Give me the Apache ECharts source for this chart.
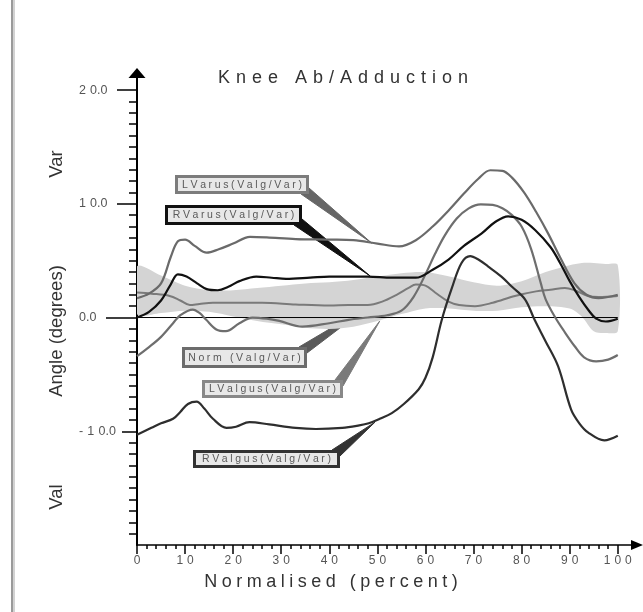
<!DOCTYPE html>
<html>
<head>
<meta charset="utf-8">
<script src="https://cdn.jsdelivr.net/npm/echarts@6/dist/echarts.min.js"></script>
<style>
  html, body { margin: 0; padding: 0; background: #fff; }
  #chart { width: 643px; height: 612px; }
</style>
</head>
<body>
<div id="chart"></div>
<script>
// ---- text ----
const TITLE = 'Knee Ab/Adduction';
const X_NAME = 'Normalised (percent)';
const Y_NAME = 'Angle (degrees)';
const Y_UPPER_NOTE = 'Var';
const Y_LOWER_NOTE = 'Val';

// ---- tick labels ----
const xTickLabels = [0, 10, 20, 30, 40, 50, 60, 70, 80, 90, 100];
const yTickLabels = [-10, 0, 10, 20];

// ---- normative band (percent of cycle, upper / lower bound in degrees) ----
const normPct   = [0, 5, 10, 15, 20, 25, 30, 35, 40, 45, 50, 55, 60, 65, 70, 75, 80, 85, 90, 92.5, 95, 97.5, 100];
const normUpper = [4.5, 3.7, 2.8, 2.4, 2.4, 2.6, 2.8, 3.0, 3.1, 3.3, 3.6, 3.9, 4.0, 3.6, 3.1, 2.8, 3.2, 4.0, 4.6, 4.8, 4.8, 4.7, 4.6];
const normLower = [0.3, 0.4, 0.6, 0.5, 0.1, -0.3, -0.6, -0.9, -1.0, -0.8, -0.3, 0.3, 0.8, 0.8, 0.6, 0.6, 0.9, 1.0, 0.8, 0.1, -1.2, -1.35, -1.2];

// ---- curves ----
const lVarusPct = [0, 2.5, 5, 7, 8.5, 10, 12, 14.5, 17, 20, 23.5, 27, 33, 40, 45, 50, 54.5, 58, 61.5, 65, 68, 71, 73.5, 76, 78, 80.5, 83, 85.5, 88, 91, 93.5, 96, 100];
const lVarusVal = [1.7, 2.1, 3.0, 5.3, 6.7, 6.85, 6.3, 5.7, 6.0, 6.5, 7.1, 7.05, 6.9, 6.85, 6.8, 6.5, 6.25, 6.8, 8.0, 9.5, 10.9, 12.2, 12.95, 12.9, 12.3, 11.0, 9.3, 7.4, 5.3, 3.0, 2.0, 1.7, 2.0];

const rVarusPct = [0, 2.5, 5, 7, 8.5, 10.3, 12.5, 14.5, 16.8, 19, 21.3, 24.8, 28, 31, 36, 40, 44, 48, 53, 58, 61.5, 64.8, 68, 71.7, 74.5, 77.2, 80, 82.8, 86, 88, 90, 92, 94, 95.5, 97.5, 100];
const rVarusVal = [0, 0.5, 1.5, 2.9, 3.8, 3.6, 3.0, 2.5, 2.4, 2.7, 3.2, 3.6, 3.5, 3.4, 3.5, 3.6, 3.6, 3.6, 3.5, 3.5, 4.2, 5.1, 6.3, 7.4, 8.4, 8.9, 8.6, 7.7, 6.2, 4.8, 3.2, 1.8, 0.6, -0.1, -0.35, -0.1];

const normCurvePct = [0, 3, 6.8, 9, 11, 13, 15.8, 20, 26, 33, 40, 44, 48, 51, 54, 56.5, 58, 60, 62, 64.8, 67, 70.3, 74, 78.6, 83, 86, 89, 91, 93.8, 96, 100];
const normCurveVal = [2.2, 2.1, 1.9, 1.5, 1.1, 1.2, 1.3, 1.3, 1.3, 1.15, 1.05, 1.1, 1.1, 1.4, 2.0, 2.6, 2.9, 2.8, 2.2, 1.4, 1.1, 1.0, 1.3, 1.9, 2.3, 2.45, 2.6, 2.4, 1.9, 1.8, 1.9];

const lValgusPct = [0, 2.5, 5, 7.5, 9, 11.6, 13, 14.4, 16.5, 18.5, 21.3, 24, 27, 29.6, 34.4, 40, 44, 48, 52, 55, 57.5, 60, 62, 64, 66.5, 69, 71.5, 74, 76, 78, 80, 82, 84, 85, 87, 89, 91, 93, 95.5, 98, 100];
const lValgusVal = [-3.4, -2.6, -1.7, -0.5, 0.2, 0.7, 0.4, -0.2, -1.05, -1.2, -0.5, 0.0, -0.1, -0.3, -0.8, -0.5, -0.2, 0.0, 0.2, 0.6, 1.8, 3.8, 5.6, 7.2, 8.7, 9.6, 9.95, 9.9, 9.6, 9.0, 8.0, 6.0, 3.0, 1.6, 0.0, -1.3, -2.5, -3.5, -3.85, -3.7, -3.3];

const rValgusPct = [0, 3, 5, 7.5, 9, 10.6, 12.4, 14, 15.8, 18.6, 20.6, 23.4, 27.5, 33, 37.2, 42.7, 46, 48.2, 50.5, 53, 55.5, 58.6, 60, 61.5, 63.4, 65.5, 67.5, 69.3, 71, 73, 75.8, 78, 80.7, 82.7, 85, 87.6, 90.3, 92, 93.8, 97.2, 100];
const rValgusVal = [-10.3, -9.7, -9.3, -8.9, -8.3, -7.6, -7.4, -8.0, -8.9, -9.7, -9.6, -9.2, -9.4, -9.7, -9.8, -9.7, -9.5, -9.3, -8.9, -8.4, -7.6, -6.3, -5.3, -3.5, -0.2, 2.6, 4.8, 5.4, 5.1, 4.5, 3.6, 2.7, 1.6, -0.2, -2.1, -4.3, -8.1, -9.3, -10.1, -10.8, -10.4];

// ---- callout labels and the curve point each one points at ----
const calloutText   = ['LVarus(Valg/Var)', 'RVarus(Valg/Var)', 'Norm (Valg/Var)', 'LValgus(Valg/Var)', 'RValgus(Valg/Var)'];
const calloutTarget = [[48.8, 6.55], [48.5, 3.65], [48.5, 1.1], [50.5, -0.3], [49.5, -9.2]];

// ---- layout / style ----
const FONT = '"Liberation Sans", Arial, Helvetica, sans-serif';
const calloutLayout = [
  { box: [175, 175, 134, 19], edge: 'bottom', stroke: '#7c7c7c', wedge: '#666666' },
  { box: [165, 205, 137, 20], edge: 'bottom', stroke: '#111111', wedge: '#111111' },
  { box: [182, 347, 125, 21], edge: 'top',    stroke: '#6c6c6c', wedge: '#5a5a5a' },
  { box: [202, 380, 141, 18], edge: 'top',    stroke: '#888888', wedge: '#7a7a7a' },
  { box: [193, 450, 147, 18], edge: 'top',    stroke: '#333333', wedge: '#333333' }
];

const spaced = (s, sep) => Array.from(s).join(sep);
function numLabel(s) {
  const ch = Array.from(s);
  let out = '';
  for (let i = 0; i < ch.length; i++) {
    out += ch[i];
    if (i < ch.length - 1 && ch[i] !== '.' && ch[i + 1] !== '.') out += '\u2004';
  }
  return out;
}
const zip = (a, b) => a.map((x, i) => [x, b[i]]);

const xMinor = [];
for (let v = 2; v < 100; v += 2) if (v % 10 !== 0) xMinor.push(v);
const yMinor = [];
for (let v = -19; v < 20; v++) if (v % 10 !== 0) yMinor.push(v);

function yTickAxis(values, length) {
  return {
    type: 'value', min: -20, max: 21.5, position: 'left', offset: 0,
    axisLine: { show: false, onZero: false },
    axisTick: { show: true, customValues: values, length: length, lineStyle: { color: '#000', width: 1.5 } },
    axisLabel: { show: false },
    splitLine: { show: false }
  };
}

function curve(name, pct, val, color, width) {
  return {
    name: name, type: 'line', data: zip(pct, val), smooth: 0.35,
    showSymbol: false, symbol: 'none', silent: true,
    lineStyle: { color: color, width: width }
  };
}

// band polygon: upper edge left-to-right, lower edge right-to-left
function renderBand(params, api) {
  if (params.dataIndex !== 0) return null;
  const upper = normPct.map((p, i) => api.coord([p, normUpper[i]]));
  const lower = normPct.map((p, i) => api.coord([p, normLower[i]])).reverse();
  return {
    type: 'polygon',
    shape: { points: upper.concat(lower), smooth: 0.3 },
    style: { fill: '#d4d4d4', stroke: null },
    silent: true
  };
}

const option = {
  backgroundColor: '#ffffff',
  animation: false,
  grid: { left: 137, right: 6, top: 73, bottom: 67, containLabel: false, outerBoundsMode: 'none' },
  xAxis: [
    {
      type: 'value', min: 0, max: 104, position: 'bottom',
      axisLine: { show: true, onZero: false, lineStyle: { color: '#000', width: 1.5 }, symbol: ['none', 'triangle'], symbolSize: [10, 12] },
      axisTick: { show: true, customValues: xTickLabels, length: 9, lineStyle: { color: '#000', width: 1.5 } },
      axisLabel: { show: true, customValues: xTickLabels, margin: 10, color: '#555', fontSize: 12, fontFamily: FONT,
                   formatter: v => numLabel(String(v)) },
      splitLine: { show: false }
    },
    {
      type: 'value', min: 0, max: 104, position: 'bottom', offset: 0,
      axisLine: { show: false, onZero: false },
      axisTick: { show: true, customValues: xMinor, length: 4, lineStyle: { color: '#000', width: 1.5 } },
      axisLabel: { show: false },
      splitLine: { show: false }
    }
  ],
  yAxis: [
    {
      type: 'value', min: -20, max: 21.5, position: 'left', offset: 0,
      axisLine: { show: true, onZero: false, lineStyle: { color: '#000', width: 2 }, symbol: ['none', 'triangle'], symbolSize: [17, 10] },
      axisTick: { show: true, customValues: [10, 20], length: 20, lineStyle: { color: '#000', width: 1.5 } },
      axisLabel: { show: true, customValues: yTickLabels, align: 'left', margin: 58, color: '#555', fontSize: 12.5, fontFamily: FONT,
                   formatter: v => numLabel(v.toFixed(1)) },
      splitLine: { show: false }
    },
    yTickAxis([-10], 15),
    yTickAxis([0], 31),
    yTickAxis(yMinor, 8)
  ],
  series: [
    {
      name: 'normBand', type: 'custom', renderItem: renderBand,
      data: zip(normPct, normUpper), silent: true, clip: true, z: 1
    },
    {
      name: 'zero', type: 'line', data: [[0, 0], [100, 0]], showSymbol: false, symbol: 'none', silent: true,
      lineStyle: { color: '#000', width: 1 }
    },
    curve('Norm', normCurvePct, normCurveVal, '#7a7a7a', 2),
    curve('LValgus', lValgusPct, lValgusVal, '#6e6e6e', 2.2),
    curve('LVarus', lVarusPct, lVarusVal, '#6a6a6a', 2.2),
    curve('RValgus', rValgusPct, rValgusVal, '#2e2e2e', 2.2),
    curve('RVarus', rVarusPct, rVarusVal, '#111111', 2.2)
  ]
};

const chart = echarts.init(document.getElementById('chart'), null, { renderer: 'canvas' });
chart.setOption(option);

// ---- titles, axis names, border and callouts ----
function txt(str, x, y, size, color, rotation, align) {
  return {
    type: 'text', x: x, y: y, rotation: rotation || 0, silent: true,
    style: {
      text: str, x: 0, y: 0, font: size + 'px ' + FONT, fill: color,
      align: align || 'center', textAlign: align || 'center',
      verticalAlign: 'middle', textVerticalAlign: 'middle'
    }
  };
}

const graphics = [
  { type: 'rect', shape: { x: 11, y: 0, width: 2, height: 612 }, style: { fill: '#9a9a9a' }, silent: true },
  { type: 'rect', shape: { x: 13, y: 0, width: 2, height: 612 }, style: { fill: '#d2d2d2' }, silent: true },
  txt(spaced(TITLE, '\u2004'), 343, 78, 18, '#333'),
  txt(spaced(X_NAME, '\u2005'), 331, 582, 18, '#333'),
  txt(Y_NAME, 57, 331, 18.5, '#333', Math.PI / 2),
  txt(Y_UPPER_NOTE, 57, 164, 18.5, '#333', Math.PI / 2),
  txt(Y_LOWER_NOTE, 57, 497, 18.5, '#333', Math.PI / 2)
];

const boxes = [];
calloutText.forEach((label, i) => {
  const lay = calloutLayout[i];
  const [bx, by, bw, bh] = lay.box;
  const tip = chart.convertToPixel({ seriesIndex: 2 }, calloutTarget[i]);
  let p1, p2;
  if (lay.edge === 'bottom') {
    p1 = [bx + bw - 8, by + bh];
    p2 = [bx + bw, by + bh - 6];
  } else {
    p1 = [bx + bw - 8, by];
    p2 = [bx + bw, by + 6];
  }
  graphics.push({
    type: 'polygon', silent: true,
    shape: { points: [p1, p2, tip] },
    style: { fill: lay.wedge, stroke: lay.wedge, lineWidth: 1 }
  });
  boxes.push({
    type: 'rect', silent: true,
    shape: { x: bx + 1.5, y: by + 1.5, width: bw - 3, height: bh - 3 },
    style: { fill: '#e8e8e8', stroke: lay.stroke, lineWidth: 3 }
  });
  boxes.push(txt(spaced(label, '\u2005'), bx + bw / 2, by + bh / 2 + 0.5, 10.5, '#5a5a5a'));
});

chart.setOption({ graphic: graphics.concat(boxes) });
</script>
</body>
</html>
